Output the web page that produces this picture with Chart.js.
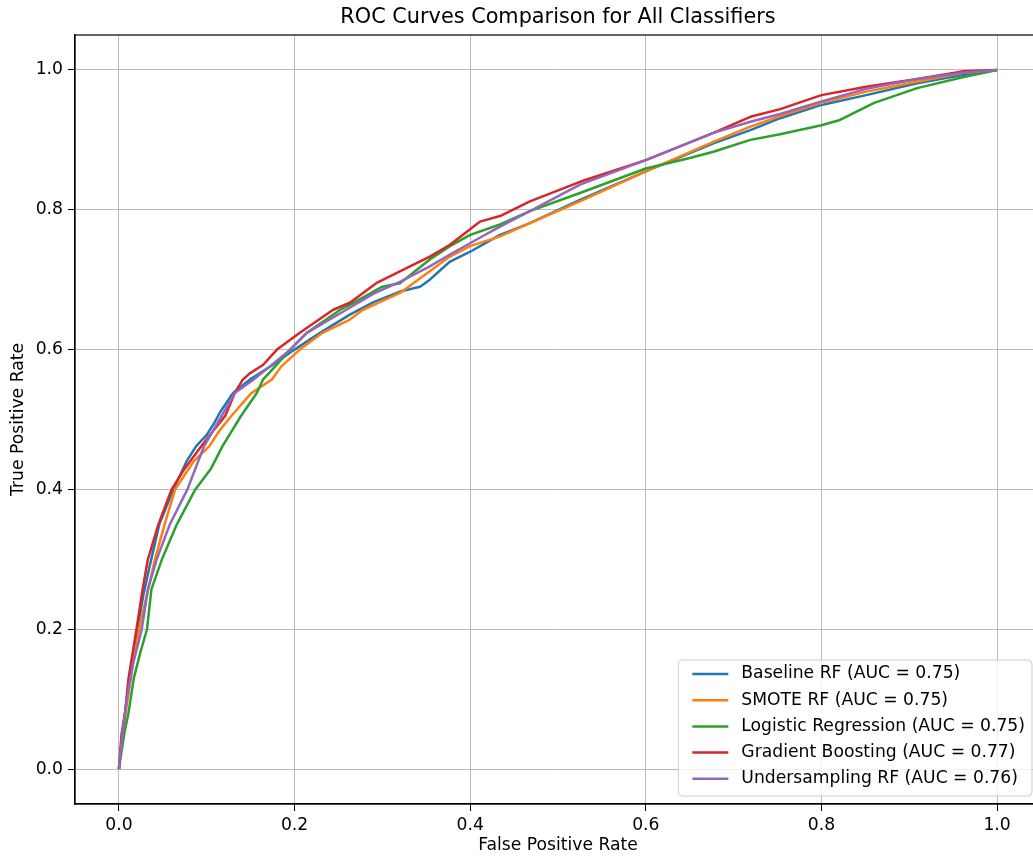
<!DOCTYPE html>
<html>
<head>
<meta charset="utf-8">
<title>ROC Curves Comparison for All Classifiers</title>
<script src="https://cdn.jsdelivr.net/npm/chart.js@4.4.1/dist/chart.umd.min.js"></script>
<style>
    html, body { margin: 0; padding: 0; background: #fff; overflow: hidden; }
    #wrap { width: 1033px; height: 857px; overflow: hidden; position: relative; }
    canvas { display: block; }
</style>
</head>
<body>
<div id="wrap"><canvas id="rocChart" width="1060" height="857"></canvas></div>
<script>
const chartTitle = 'ROC Curves Comparison for All Classifiers';
const xTicks = [0, 0.2, 0.4, 0.6, 0.8, 1.0];
const yTicks = [0, 0.2, 0.4, 0.6, 0.8, 1.0];

const seriesLabels = [
    'Baseline RF (AUC = 0.75)',
    'SMOTE RF (AUC = 0.75)',
    'Logistic Regression (AUC = 0.75)',
    'Gradient Boosting (AUC = 0.77)',
    'Undersampling RF (AUC = 0.76)'
];
const seriesColors = ['#1f77b4', '#ff7f0e', '#2ca02c', '#d62728', '#9467bd'];

// values
const baselineFpr = [0, 0.004, 0.009, 0.014, 0.021, 0.028, 0.035, 0.046, 0.062, 0.077, 0.088, 0.100, 0.109, 0.115, 0.130, 0.149, 0.175, 0.200, 0.229, 0.263, 0.290, 0.320, 0.343, 0.354, 0.377, 0.400, 0.434, 0.468, 0.525, 0.600, 0.677, 0.719, 0.753, 0.800, 0.851, 0.909, 0.962, 1.0];
const baselineTpr = [0, 0.05, 0.10, 0.15, 0.20, 0.25, 0.29, 0.35, 0.40, 0.44, 0.462, 0.478, 0.496, 0.510, 0.538, 0.557, 0.578, 0.600, 0.624, 0.650, 0.668, 0.683, 0.690, 0.700, 0.726, 0.740, 0.764, 0.781, 0.814, 0.855, 0.895, 0.914, 0.931, 0.950, 0.964, 0.981, 0.993, 1.0];

const smoteFpr = [0, 0.004, 0.010, 0.016, 0.023, 0.032, 0.041, 0.052, 0.064, 0.085, 0.103, 0.115, 0.128, 0.151, 0.174, 0.185, 0.206, 0.232, 0.263, 0.278, 0.320, 0.354, 0.377, 0.400, 0.434, 0.468, 0.525, 0.600, 0.677, 0.719, 0.753, 0.800, 0.851, 0.909, 0.962, 1.0];
const smoteTpr = [0, 0.05, 0.10, 0.15, 0.20, 0.25, 0.30, 0.35, 0.40, 0.44, 0.462, 0.485, 0.505, 0.538, 0.557, 0.576, 0.600, 0.624, 0.643, 0.657, 0.681, 0.712, 0.733, 0.748, 0.762, 0.781, 0.812, 0.855, 0.897, 0.919, 0.934, 0.953, 0.969, 0.983, 0.996, 1.0];

const logregFpr = [0, 0.006, 0.011, 0.017, 0.024, 0.032, 0.037, 0.049, 0.066, 0.087, 0.105, 0.118, 0.139, 0.157, 0.164, 0.178, 0.195, 0.214, 0.252, 0.263, 0.300, 0.320, 0.354, 0.377, 0.400, 0.434, 0.468, 0.525, 0.600, 0.650, 0.677, 0.719, 0.753, 0.800, 0.820, 0.860, 0.909, 0.962, 1.0];
const logregTpr = [0, 0.05, 0.081, 0.13, 0.165, 0.20, 0.257, 0.30, 0.35, 0.40, 0.43, 0.462, 0.505, 0.538, 0.557, 0.576, 0.600, 0.624, 0.657, 0.664, 0.690, 0.695, 0.729, 0.748, 0.764, 0.779, 0.798, 0.824, 0.859, 0.874, 0.883, 0.900, 0.908, 0.921, 0.928, 0.953, 0.974, 0.990, 1.0];

const gboostFpr = [0, 0.003, 0.007, 0.011, 0.020, 0.027, 0.033, 0.045, 0.060, 0.075, 0.094, 0.105, 0.121, 0.132, 0.141, 0.149, 0.164, 0.180, 0.206, 0.244, 0.263, 0.293, 0.320, 0.354, 0.377, 0.411, 0.434, 0.468, 0.525, 0.600, 0.677, 0.719, 0.753, 0.800, 0.851, 0.909, 0.962, 1.0];
const gboostTpr = [0, 0.05, 0.081, 0.13, 0.20, 0.257, 0.30, 0.35, 0.40, 0.43, 0.462, 0.48, 0.505, 0.538, 0.557, 0.566, 0.578, 0.600, 0.624, 0.657, 0.667, 0.695, 0.712, 0.733, 0.750, 0.783, 0.791, 0.812, 0.840, 0.871, 0.910, 0.933, 0.944, 0.964, 0.976, 0.987, 0.998, 1.0];

const underFpr = [0, 0.004, 0.009, 0.016, 0.026, 0.033, 0.043, 0.058, 0.078, 0.097, 0.117, 0.132, 0.153, 0.172, 0.195, 0.214, 0.259, 0.290, 0.320, 0.354, 0.377, 0.411, 0.434, 0.468, 0.525, 0.600, 0.677, 0.719, 0.753, 0.800, 0.851, 0.909, 0.962, 1.0];
const underTpr = [0, 0.05, 0.10, 0.15, 0.20, 0.257, 0.30, 0.35, 0.40, 0.462, 0.505, 0.538, 0.557, 0.576, 0.600, 0.624, 0.657, 0.680, 0.697, 0.719, 0.736, 0.760, 0.776, 0.798, 0.836, 0.871, 0.910, 0.926, 0.937, 0.955, 0.973, 0.987, 0.996, 1.0];

const seriesFpr = [baselineFpr, smoteFpr, logregFpr, gboostFpr, underFpr];
const seriesTpr = [baselineTpr, smoteTpr, logregTpr, gboostTpr, underTpr];

const FONT = '"DejaVu Sans", sans-serif';
const TEXT_SIZE = 17.2;

// matplotlib-ish frame, title and legend
const framePlugin = {
    id: 'framePlugin',
    afterDraw(chart) {
        const { ctx, chartArea: a } = chart;
        ctx.save();

        // spines
        ctx.strokeStyle = '#000';
        ctx.lineWidth = 1.2;
        ctx.strokeRect(a.left, a.top, a.right - a.left, a.bottom - a.top);

        // title
        ctx.fillStyle = '#000';
        ctx.font = '20.8px ' + FONT;
        ctx.textAlign = 'center';
        ctx.textBaseline = 'middle';
        ctx.fillText(chartTitle, (a.left + a.right) / 2, 17.5);

        // legend, lower right
        ctx.font = TEXT_SIZE + 'px ' + FONT;
        const maxW = Math.max(...seriesLabels.map(t => ctx.measureText(t).width));
        const right = a.right - 9;
        const bottom = a.bottom - 8;
        const height = 136;
        const top = bottom - height;
        const left = right - 7 - maxW - 63;

        ctx.beginPath();
        if (ctx.roundRect) {
            ctx.roundRect(left, top, right - left, height, 4);
        } else {
            ctx.rect(left, top, right - left, height);
        }
        ctx.fillStyle = 'rgba(255,255,255,0.8)';
        ctx.fill();
        ctx.strokeStyle = '#cccccc';
        ctx.lineWidth = 1;
        ctx.stroke();

        ctx.textAlign = 'left';
        seriesLabels.forEach((label, i) => {
            const y = top + 14 + i * 26.2;
            ctx.strokeStyle = seriesColors[i];
            ctx.lineWidth = 2.5;
            ctx.beginPath();
            ctx.moveTo(left + 14, y);
            ctx.lineTo(left + 50, y);
            ctx.stroke();
            ctx.fillStyle = '#000';
            ctx.fillText(label, left + 63, y);
        });

        ctx.restore();
    }
};

const ctx = document.getElementById('rocChart').getContext('2d');

new Chart(ctx, {
    type: 'line',
    data: {
        datasets: seriesLabels.map((label, i) => ({
            label: label,
            data: seriesFpr[i].map((x, j) => ({ x: x, y: seriesTpr[i][j] })),
            borderColor: seriesColors[i],
            backgroundColor: seriesColors[i],
            borderWidth: 2.5,
            borderJoinStyle: 'round',
            pointRadius: 0,
            tension: 0,
            fill: false,
            order: seriesLabels.length - i
        }))
    },
    options: {
        responsive: false,
        animation: false,
        devicePixelRatio: 1,
        layout: { padding: { top: 35, right: 19, left: 0, bottom: 0 } },
        plugins: {
            legend: { display: false },
            title: { display: false },
            tooltip: { enabled: false }
        },
        scales: {
            x: {
                type: 'linear',
                min: -0.05,
                max: 1.05,
                afterBuildTicks: scale => { scale.ticks = xTicks.map(v => ({ value: v })); },
                afterFit: scale => { scale.height = 53; },
                ticks: {
                    callback: v => v.toFixed(1),
                    color: '#000',
                    padding: 4,
                    maxRotation: 0,
                    font: { family: FONT, size: TEXT_SIZE }
                },
                grid: { color: '#bbbbbb', lineWidth: 1, tickLength: 7, tickColor: '#000' },
                border: { color: '#000', width: 1.2 },
                title: {
                    display: true,
                    text: 'False Positive Rate',
                    color: '#000',
                    padding: { top: 0, bottom: 1 },
                    font: { family: FONT, size: TEXT_SIZE }
                }
            },
            y: {
                type: 'linear',
                min: -0.05,
                max: 1.05,
                afterBuildTicks: scale => { scale.ticks = yTicks.map(v => ({ value: v })); },
                afterFit: scale => { scale.width = 75; },
                ticks: {
                    callback: v => v.toFixed(1),
                    color: '#000',
                    padding: 5,
                    font: { family: FONT, size: TEXT_SIZE }
                },
                grid: { color: '#bbbbbb', lineWidth: 1, tickLength: 7, tickColor: '#000' },
                border: { color: '#000', width: 1.2 },
                title: {
                    display: true,
                    text: 'True Positive Rate',
                    color: '#000',
                    padding: { top: 8, bottom: 0 },
                    font: { family: FONT, size: TEXT_SIZE }
                }
            }
        }
    },
    plugins: [framePlugin]
});
</script>
</body>
</html>
